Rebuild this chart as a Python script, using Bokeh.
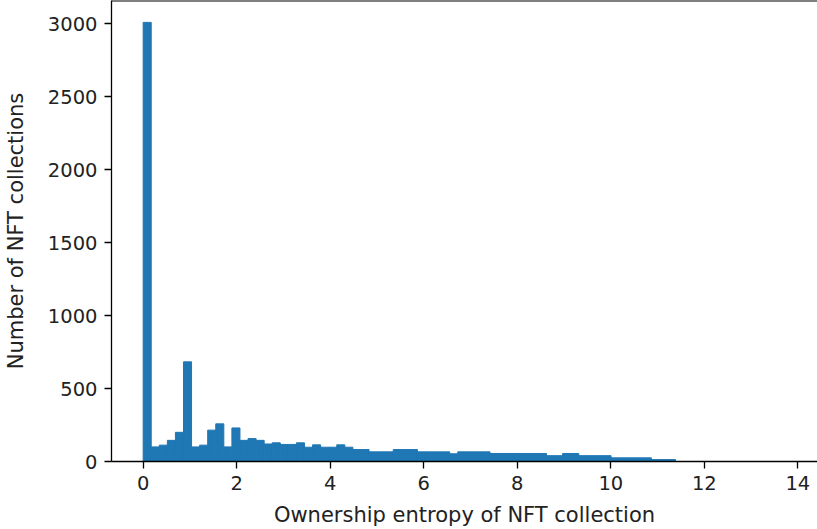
import numpy as np
from bokeh.plotting import figure
from bokeh.models import Range1d, FixedTicker, Span, ColumnDataSource
from bokeh.embed import file_html
from bokeh.resources import INLINE

# Histogram of ownership entropy (80 equal-width bins from 0 to max entropy)
n_bins = 80
entropy_max = 13.8
counts = [3010, 100, 112, 145, 200, 683, 100, 112, 215, 258,
          100, 230, 145, 157, 145, 120, 128, 117, 117, 128,
          98, 114, 98, 98, 114, 98, 82, 82, 66, 66,
          66, 82, 82, 82, 66, 66, 66, 66, 53, 66,
          66, 66, 66, 55, 55, 55, 55, 55, 55, 55,
          40, 40, 55, 55, 40, 40, 40, 40, 25, 25,
          25, 25, 25, 13, 13, 13, 0, 0, 0, 0,
          0, 0, 0, 0, 0, 0, 0, 0, 0, 0]
x_ticks = [0, 2, 4, 6, 8, 10, 12, 14]
y_ticks = [0, 500, 1000, 1500, 2000, 2500, 3000]
x_label = "Ownership entropy of NFT collection"
y_label = "Number of NFT collections"

edges = np.linspace(0, entropy_max, n_bins + 1)
src = ColumnDataSource(dict(left=edges[:-1], right=edges[1:], top=counts,
                            bottom=[0] * n_bins))

p = figure(width=817, height=529, output_backend="svg", toolbar_location=None,
           x_range=Range1d(-0.677, 14.42), y_range=Range1d(0, 3160),
           min_border_left=110, min_border_right=0, min_border_top=0,
           min_border_bottom=68)
p.quad(left="left", right="right", top="top", bottom="bottom", source=src,
       fill_color="#1f77b4", line_color="#1f77b4", line_width=1)

p.xgrid.visible = False
p.ygrid.visible = False
p.outline_line_color = None
p.add_layout(Span(location=3160, dimension="width", line_color="black",
                  line_width=2))

p.xaxis.ticker = FixedTicker(ticks=x_ticks)
p.yaxis.ticker = FixedTicker(ticks=y_ticks)
p.xaxis.axis_label = x_label
p.yaxis.axis_label = y_label

for ax in (p.xaxis[0], p.yaxis[0]):
    ax.major_tick_in = 0
    ax.major_tick_out = 7
    ax.minor_tick_line_color = None
    ax.axis_line_color = "black"
    ax.axis_line_width = 1.3
    ax.major_tick_line_color = "black"
    ax.major_tick_line_width = 1.3
    ax.major_label_standoff = 7
    ax.major_label_text_font = "DejaVu Sans"
    ax.major_label_text_font_size = "19.5px"
    ax.major_label_text_color = "#222222"
    ax.axis_label_text_font = "DejaVu Sans"
    ax.axis_label_text_font_size = "21px"
    ax.axis_label_text_font_style = "normal"
    ax.axis_label_text_color = "#222222"

p.xaxis.axis_label_standoff = 10
p.yaxis.axis_label_standoff = 17

open("out.html", "w").write(file_html(p, INLINE))
